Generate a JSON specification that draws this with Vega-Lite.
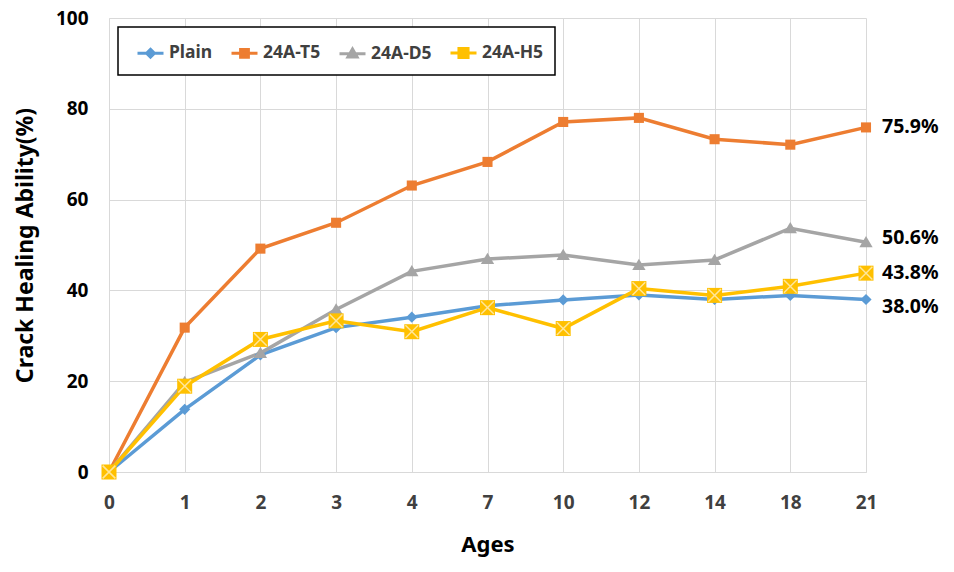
{
  "$schema": "https://vega.github.io/schema/vega-lite/v6.json",
  "width": 757,
  "height": 454,
  "autosize": {"type": "none"},
  "padding": {"left": 109, "top": 18, "right": 88, "bottom": 100},
  "background": "white",
  "config": {
    "view": {"stroke": null},
    "font": "Noto Sans",
    "axis": {"gridColor": "#d9d9d9", "gridWidth": 1, "domainColor": "#d9d9d9", "ticks": false, "labelFont": "Noto Sans", "labelFontWeight": "bold", "titleFont": "Noto Sans", "titleFontWeight": "bold", "titleColor": "black"}
  },
  "datasets": {
    "main": [
      {"age": "0", "series": "Plain", "value": 0},
      {"age": "1", "series": "Plain", "value": 13.8},
      {"age": "2", "series": "Plain", "value": 25.8},
      {"age": "3", "series": "Plain", "value": 31.8},
      {"age": "4", "series": "Plain", "value": 34.1},
      {"age": "7", "series": "Plain", "value": 36.6},
      {"age": "10", "series": "Plain", "value": 37.9},
      {"age": "12", "series": "Plain", "value": 39.0},
      {"age": "14", "series": "Plain", "value": 38.0},
      {"age": "18", "series": "Plain", "value": 38.9},
      {"age": "21", "series": "Plain", "value": 38.0},
      {"age": "0", "series": "24A-T5", "value": 0},
      {"age": "1", "series": "24A-T5", "value": 31.8},
      {"age": "2", "series": "24A-T5", "value": 49.2},
      {"age": "3", "series": "24A-T5", "value": 54.9},
      {"age": "4", "series": "24A-T5", "value": 63.1},
      {"age": "7", "series": "24A-T5", "value": 68.3},
      {"age": "10", "series": "24A-T5", "value": 77.1},
      {"age": "12", "series": "24A-T5", "value": 78.0},
      {"age": "14", "series": "24A-T5", "value": 73.3},
      {"age": "18", "series": "24A-T5", "value": 72.1},
      {"age": "21", "series": "24A-T5", "value": 75.9},
      {"age": "0", "series": "24A-D5", "value": 0},
      {"age": "1", "series": "24A-D5", "value": 19.8},
      {"age": "2", "series": "24A-D5", "value": 26.2},
      {"age": "3", "series": "24A-D5", "value": 35.8},
      {"age": "4", "series": "24A-D5", "value": 44.2},
      {"age": "7", "series": "24A-D5", "value": 46.9},
      {"age": "10", "series": "24A-D5", "value": 47.8},
      {"age": "12", "series": "24A-D5", "value": 45.6},
      {"age": "14", "series": "24A-D5", "value": 46.7},
      {"age": "18", "series": "24A-D5", "value": 53.7},
      {"age": "21", "series": "24A-D5", "value": 50.6},
      {"age": "0", "series": "24A-H5", "value": 0},
      {"age": "1", "series": "24A-H5", "value": 18.9},
      {"age": "2", "series": "24A-H5", "value": 29.2},
      {"age": "3", "series": "24A-H5", "value": 33.3},
      {"age": "4", "series": "24A-H5", "value": 30.9},
      {"age": "7", "series": "24A-H5", "value": 36.2},
      {"age": "10", "series": "24A-H5", "value": 31.6},
      {"age": "12", "series": "24A-H5", "value": 40.4},
      {"age": "14", "series": "24A-H5", "value": 38.9},
      {"age": "18", "series": "24A-H5", "value": 40.9},
      {"age": "21", "series": "24A-H5", "value": 43.8}
    ],
    "labels": [
      {"age": "21", "series": "24A-T5", "value": 75.9, "label": "75.9%"},
      {"age": "21", "series": "24A-D5", "value": 50.6, "label": "50.6%"},
      {"age": "21", "series": "24A-H5", "value": 43.8, "label": "43.8%"},
      {"age": "21", "series": "Plain", "value": 38.0, "label": "38.0%"}
    ]
  },
  "encoding": {
    "x": {
      "field": "age", "type": "ordinal",
      "sort": ["0", "1", "2", "3", "4", "7", "10", "12", "14", "18", "21"],
      "scale": {"type": "point", "padding": 0},
      "axis": {"labelAngle": 0, "grid": true, "labelFontSize": 19, "labelColor": "#404040", "labelPadding": 21, "title": "Ages", "titleFontSize": 22, "titlePadding": 22}
    },
    "y": {
      "field": "value", "type": "quantitative",
      "scale": {"domain": [0, 100], "nice": false},
      "axis": {"values": [0, 20, 40, 60, 80, 100], "labelFontSize": 19, "labelColor": "black", "labelPadding": 21, "title": "Crack Healing Ability(%)", "titleFontSize": 23, "titlePadding": 18}
    }
  },
  "layer": [
    {
      "data": {"name": "main"},
      "mark": {"type": "line", "strokeWidth": 3.5},
      "encoding": {
        "color": {
          "field": "series", "type": "nominal",
          "scale": {"domain": ["Plain", "24A-T5", "24A-D5", "24A-H5"], "range": ["#5B9BD5", "#ED7D31", "#A5A5A5", "#FFC000"]},
          "legend": {
            "title": null, "orient": "none", "legendX": 9, "legendY": 9, "direction": "horizontal",
            "strokeColor": "black", "padding": 11, "fillColor": "white",
            "symbolSize": 676, "symbolOffset": 7, "labelFontSize": 17.5, "labelFont": "Noto Sans", "labelFontWeight": "bold", "labelColor": "#404040",
            "labelOffset": 4, "columnPadding": 10,
            "encode": {
              "legend": {"update": {"strokeWidth": {"value": 1.5}}},
              "symbols": {
                "update": {
                  "shape": {"signal": "datum.value === 'Plain' ? 'M-1,0H1M0,-0.3L0.3,0L0,0.3L-0.3,0Z' : datum.value === '24A-T5' ? 'M-1,0H1M-0.3,-0.3H0.3V0.3H-0.3Z' : datum.value === '24A-D5' ? 'M-1,0H1M0,-0.35L0.35,0.25H-0.35Z' : 'M-1,0H1M-0.35,-0.35H0.35V0.35H-0.35Z'"},
                  "fill": {"scale": "color", "field": "value"},
                  "stroke": {"scale": "color", "field": "value"},
                  "strokeWidth": {"value": 3},
                  "opacity": {"value": 1}
                }
              }
            }
          }
        }
      }
    },
    {
      "data": {"name": "main"},
      "transform": [{"filter": "datum.series === 'Plain'"}],
      "mark": {"type": "point", "filled": true, "opacity": 1, "size": 196, "shape": "M0,-0.8L0.8,0L0,0.8L-0.8,0Z", "color": "#5B9BD5"}
    },
    {
      "data": {"name": "main"},
      "transform": [{"filter": "datum.series === '24A-T5'"}],
      "mark": {"type": "point", "filled": true, "opacity": 1, "size": 196, "shape": "M-0.72,-0.72H0.72V0.72H-0.72Z", "color": "#ED7D31"}
    },
    {
      "data": {"name": "main"},
      "transform": [{"filter": "datum.series === '24A-D5'"}],
      "mark": {"type": "point", "filled": true, "opacity": 1, "size": 196, "shape": "M0,-0.9L0.95,0.72H-0.95Z", "color": "#A5A5A5"}
    },
    {
      "data": {"name": "main"},
      "transform": [{"filter": "datum.series === '24A-H5'"}],
      "mark": {"type": "point", "filled": true, "opacity": 1, "size": 225, "shape": "M-1,-1H1V1H-1Z", "color": "#FFC000"}
    },
    {
      "data": {"name": "main"},
      "transform": [{"filter": "datum.series === '24A-H5'"}],
      "mark": {"type": "point", "filled": false, "opacity": 1, "size": 225, "shape": "M-0.85,-0.85L0.85,0.85M0.85,-0.85L-0.85,0.85", "stroke": "#FFE699", "strokeWidth": 1.5}
    },
    {
      "data": {"name": "labels"},
      "transform": [{"filter": "datum.series === '24A-T5' || datum.series === '24A-H5'"}],
      "mark": {"type": "text", "align": "left", "dx": 16, "dy": 0, "fontSize": 19.5, "fontWeight": "bold", "font": "Noto Sans", "color": "black"},
      "encoding": {"text": {"field": "label"}}
    },
    {
      "data": {"name": "labels"},
      "transform": [{"filter": "datum.series === '24A-D5'"}],
      "mark": {"type": "text", "align": "left", "dx": 16, "dy": -4, "fontSize": 19.5, "fontWeight": "bold", "font": "Noto Sans", "color": "black"},
      "encoding": {"text": {"field": "label"}}
    },
    {
      "data": {"name": "labels"},
      "transform": [{"filter": "datum.series === 'Plain'"}],
      "mark": {"type": "text", "align": "left", "dx": 16, "dy": 8, "fontSize": 19.5, "fontWeight": "bold", "font": "Noto Sans", "color": "black"},
      "encoding": {"text": {"field": "label"}}
    }
  ]
}
